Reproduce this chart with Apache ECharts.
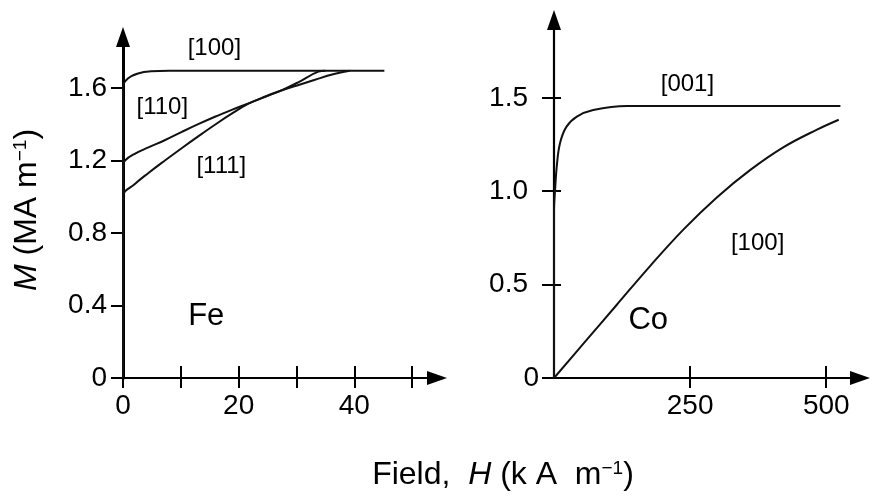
<!DOCTYPE html>
<html><head><meta charset="utf-8">
<script src="https://cdn.jsdelivr.net/npm/echarts@6/dist/echarts.min.js"></script>
<style>html,body{margin:0;padding:0;background:#fff}#c{width:873px;height:503px}</style>
</head><body><div id="c"></div>
<script>
// ---- Data ----
// Fe panel: field H (kA/m) vs magnetisation M (MA/m)
const fe100 = [[0,0],[0,1.607],[0.9,1.653],[2.6,1.68],[4.9,1.692],[8,1.695],[45.2,1.695]];
const fe110 = [[0,0],[0,1.17],[0.35,1.2],[2.1,1.238],[4.4,1.272],[7.3,1.313],[10.2,1.358],[13,1.4],[15.9,1.441],[18.8,1.479],[21.7,1.515],[24.6,1.551],[27.5,1.588],[30.3,1.631],[33.8,1.69],[35,1.695]];
const fe111 = [[0,0],[0,1.0],[2.1,1.071],[4.4,1.131],[7.3,1.201],[10.2,1.269],[13,1.333],[15.9,1.397],[18.8,1.458],[21.7,1.513],[24.6,1.553],[27.5,1.587],[30.5,1.618],[33.2,1.645],[36,1.673],[39.2,1.695]];
// Co panel
const co001 = [[0,0],[0,0.9],[2,1.007],[5,1.13],[11,1.257],[23,1.346],[42,1.4],[72,1.435],[134,1.457],[526,1.457]];
const co100 = [[0,0],[54,0.184],[115,0.391],[176,0.598],[238,0.796],[299,0.967],[360,1.113],[421,1.235],[483,1.33],[523,1.383]];
// tick values / labels
const feXTicks = [0,10,20,30,40,50];
const feXLabels = [0,20,40];
const feYTicks = [0,0.4,0.8,1.2,1.6];
const coXTicks = [250,500];
const coXLabels = [250,500];
const coYTicks = [0,0.5,1.0,1.5];
// annotations [text, x, y]
const feNotes = [['[100]',15.8,1.82],['[110]',6.8,1.495],['[111]',17,1.17]];
const feElem = [['Fe',14.4,0.34]];
const coNotes = [['[001]',245,1.57],['[100]',374,0.72]];
const coElem = [['Co',173,0.31]];

const FONT = 'Liberation Sans';
const black = '#000';
const feX = {min:0,max:54.3}, feY = {min:0,max:1.881};
const coX = {min:0,max:562}, coY = {min:0,max:1.917};

function lineSeries(data, xi, yi){
  return {type:'line', data, xAxisIndex:xi, yAxisIndex:yi, symbol:'none', smooth:0.4,
    lineStyle:{color:'#111',width:2}, silent:true, z:3};
}
function noteSeries(notes, xi, yi, size){
  return {type:'scatter', xAxisIndex:xi, yAxisIndex:yi, symbolSize:0, silent:true,
    itemStyle:{color:black, opacity:1},
    data: notes.map(n=>({name:n[0], value:[n[1],n[2]]})),
    label:{show:true, position:'inside', formatter:p=>p.name, color:black, opacity:1,
      fontFamily:FONT, fontSize:size, textBorderWidth:0},
    z:4};
}

const axisLineStyle = {color:black, width:2.2};
const tickLbl = {fontSize:28, color:black, fontFamily:FONT};
const option = {
  animation:false,
  backgroundColor:'#fff',
  grid:[
    {left:123, top:37, width:314, height:341},
    {left:554, top:20, width:306, height:358},
    {left:123, top:37, width:314, height:341},
    {left:554, top:20, width:306, height:358}
  ],
  xAxis:[
    {type:'value', gridIndex:0, ...feX, splitLine:{show:false},
     axisLine:{show:true, onZero:false, lineStyle:axisLineStyle, symbol:['none','triangle'], symbolSize:[14,20]},
     axisTick:{show:true, customValues:feXTicks, length:10, lineStyle:{color:black,width:2}},
     axisLabel:{customValues:feXLabels, margin:14, ...tickLbl}},
    {type:'value', gridIndex:1, ...coX, splitLine:{show:false},
     axisLine:{show:true, onZero:false, lineStyle:axisLineStyle, symbol:['none','triangle'], symbolSize:[14,20]},
     axisTick:{show:true, customValues:coXTicks, length:10, lineStyle:{color:black,width:2}},
     axisLabel:{customValues:coXLabels, margin:14, ...tickLbl}},
    {type:'value', gridIndex:2, ...feX, splitLine:{show:false}, axisLine:{show:false},
     axisTick:{show:true, inside:true, customValues:feXTicks, length:12, lineStyle:{color:black,width:2}},
     axisLabel:{show:false}},
    {type:'value', gridIndex:3, ...coX, splitLine:{show:false}, axisLine:{show:false},
     axisTick:{show:true, inside:true, customValues:coXTicks, length:12, lineStyle:{color:black,width:2}},
     axisLabel:{show:false}}
  ],
  yAxis:[
    {type:'value', gridIndex:0, ...feY, splitLine:{show:false},
     axisLine:{show:true, onZero:false, lineStyle:{color:black,width:3}, symbol:['none','triangle'], symbolSize:[14,20]},
     axisTick:{show:true, customValues:feYTicks, length:12, lineStyle:{color:black,width:2}},
     axisLabel:{customValues:feYTicks, margin:16, ...tickLbl,
       formatter:v=>v===0?'0':v.toFixed(1)}},
    {type:'value', gridIndex:1, ...coY, splitLine:{show:false},
     axisLine:{show:true, onZero:false, lineStyle:axisLineStyle, symbol:['none','triangle'], symbolSize:[14,20]},
     axisTick:{show:true, customValues:coYTicks, length:12, lineStyle:{color:black,width:2}},
     axisLabel:{customValues:coYTicks, margin:15, ...tickLbl,
       formatter:v=>v===0?'0':'{p|'+v.toFixed(1)+'}',
       rich:{p:{fontSize:28, color:black, fontFamily:FONT, padding:[0,11,0,0]}}}},
    {type:'value', gridIndex:2, ...feY, show:false},
    {type:'value', gridIndex:3, ...coY, splitLine:{show:false}, axisLine:{show:false},
     axisTick:{show:true, inside:true, customValues:coYTicks.filter(v=>v>0), length:7, lineStyle:{color:black,width:2}},
     axisLabel:{show:false}}
  ],
  series:[
    lineSeries(fe100,0,0), lineSeries(fe110,0,0), lineSeries(fe111,0,0),
    lineSeries(co001,1,1), lineSeries(co100,1,1),
    noteSeries(feNotes,0,0,24), noteSeries(feElem,0,0,31),
    noteSeries(coNotes,1,1,24), noteSeries(coElem,1,1,31)
  ],
  graphic:[
    {type:'text', x:27, y:210, rotation:Math.PI/2, silent:true,
     style:{text:'{i|M} (MA m{s|−1})', align:'center', verticalAlign:'middle', fill:black,
       font:'32px "Liberation Sans"',
       rich:{i:{fontStyle:'italic',fontSize:32,fontFamily:FONT,fill:black},
             s:{fontSize:19,fontFamily:FONT,verticalAlign:'top',fill:black}}}},
    {type:'text', x:503, y:475, silent:true,
     style:{text:'Field,  {i|H} (k A  m{s|−1})', align:'center', verticalAlign:'middle', fill:black,
       font:'32px "Liberation Sans"',
       rich:{i:{fontStyle:'italic',fontSize:32,fontFamily:FONT,fill:black},
             s:{fontSize:19,fontFamily:FONT,verticalAlign:'top',fill:black}}}}
  ]
};
const chart = echarts.init(document.getElementById('c'), null, {renderer:'canvas'});
chart.setOption(option);
</script></body></html>
